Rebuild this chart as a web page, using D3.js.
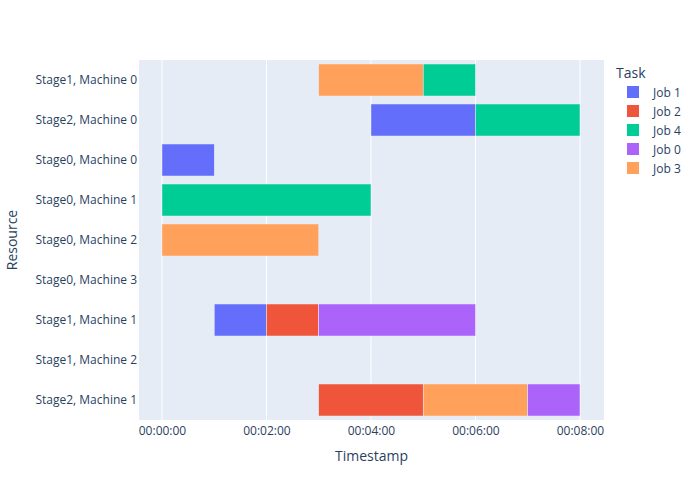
<!DOCTYPE html>
<html>
<head>
<meta charset="utf-8">
<script src="https://cdn.jsdelivr.net/npm/d3@7"></script>
<style>
  body { margin: 0; background: #fff; }
  svg text { font-family: "Open Sans", "Noto Sans", sans-serif; fill: #2a3f5f; }
</style>
</head>
<body>
<svg id="chart" width="700" height="500"></svg>
<script>
// rows, top to bottom
var resources = ['Stage1, Machine 0', 'Stage2, Machine 0', 'Stage0, Machine 0', 'Stage0, Machine 1',
  'Stage0, Machine 2', 'Stage0, Machine 3', 'Stage1, Machine 1', 'Stage1, Machine 2', 'Stage2, Machine 1'];
var legendJobs = ['Job 1', 'Job 2', 'Job 4', 'Job 0', 'Job 3'];
var jobColors = ['#636efa', '#EF553B', '#00cc96', '#ab63fa', '#FFA15A'];

// tasks (seconds from 00:00:00)
var taskJob = ['Job 3', 'Job 4', 'Job 1', 'Job 4', 'Job 1', 'Job 4', 'Job 3', 'Job 1', 'Job 2', 'Job 0', 'Job 2', 'Job 3', 'Job 0'];
var taskResource = ['Stage1, Machine 0', 'Stage1, Machine 0', 'Stage2, Machine 0', 'Stage2, Machine 0',
  'Stage0, Machine 0', 'Stage0, Machine 1', 'Stage0, Machine 2', 'Stage1, Machine 1', 'Stage1, Machine 1',
  'Stage1, Machine 1', 'Stage2, Machine 1', 'Stage2, Machine 1', 'Stage2, Machine 1'];
var taskStart = [180, 300, 240, 360, 0, 0, 0, 60, 120, 180, 180, 300, 420];
var taskEnd = [300, 360, 360, 480, 60, 240, 180, 120, 180, 360, 300, 420, 480];

var xTicks = [0, 120, 240, 360, 480];

var margin = {left: 139, right: 96, top: 60, bottom: 80};
var W = 700, H = 500;
var svg = d3.select('#chart');
var pw = W - margin.left - margin.right, ph = H - margin.top - margin.bottom;

var x = d3.scaleLinear().domain([-26.4, 507.6]).range([0, pw]);
var y = d3.scaleBand().domain(resources).range([0, ph]).paddingInner(0.2).paddingOuter(0.1);
var color = d3.scaleOrdinal().domain(legendJobs).range(jobColors);

var fmt = function(s) {
  var h = Math.floor(s / 3600), m = Math.floor((s % 3600) / 60), sec = s % 60;
  return [h, m, sec].map(function(v) { return (v < 10 ? '0' : '') + v; }).join(':');
};

var g = svg.append('g').attr('transform', 'translate(' + margin.left + ',' + margin.top + ')');
g.append('rect').attr('width', pw).attr('height', ph).attr('fill', '#E5ECF6');

// vertical grid
g.selectAll('.grid').data(xTicks).enter().append('line')
  .attr('x1', function(d) { return x(d); }).attr('x2', function(d) { return x(d); })
  .attr('y1', 0).attr('y2', ph)
  .attr('stroke', '#fff').attr('stroke-width', 1);

// bars
g.selectAll('.bar').data(d3.range(taskJob.length)).enter().append('rect')
  .attr('x', function(i) { return x(taskStart[i]); })
  .attr('width', function(i) { return x(taskEnd[i]) - x(taskStart[i]); })
  .attr('y', function(i) { return y(taskResource[i]); })
  .attr('height', y.bandwidth())
  .attr('fill', function(i) { return color(taskJob[i]); })
  .attr('stroke', '#E5ECF6').attr('stroke-width', 0.5);

// x axis
var xAxis = g.append('g').attr('transform', 'translate(0,' + ph + ')')
  .call(d3.axisBottom(x).tickValues(xTicks).tickFormat(fmt).tickSize(0).tickPadding(6));
xAxis.select('.domain').remove();
xAxis.selectAll('text').style('font-size', '12px');

// y axis
var yAxis = g.append('g').call(d3.axisLeft(y).tickSize(0).tickPadding(2));
yAxis.select('.domain').remove();
yAxis.selectAll('text').style('font-size', '12px');

svg.append('text').attr('x', margin.left + pw / 2).attr('y', 461)
  .attr('text-anchor', 'middle').style('font-size', '14px').text('Timestamp');
svg.append('text').attr('transform', 'translate(17,' + (margin.top + ph / 2) + ') rotate(-90)')
  .attr('text-anchor', 'middle').style('font-size', '14px').text('Resource');

// legend
var lg = svg.append('g').attr('transform', 'translate(616,0)');
lg.append('text').attr('x', 0).attr('y', 78).style('font-size', '14px').text('Task');
var items = lg.selectAll('.item').data(legendJobs).enter().append('g')
  .attr('transform', function(d, i) { return 'translate(0,' + (92 + i * 19) + ')'; });
items.append('rect').attr('x', 11).attr('y', -6).attr('width', 12).attr('height', 12)
  .attr('fill', function(d) { return color(d); });
items.append('text').attr('x', 37).attr('y', 4.5).style('font-size', '12px').text(function(d) { return d; });
</script>
</body>
</html>
